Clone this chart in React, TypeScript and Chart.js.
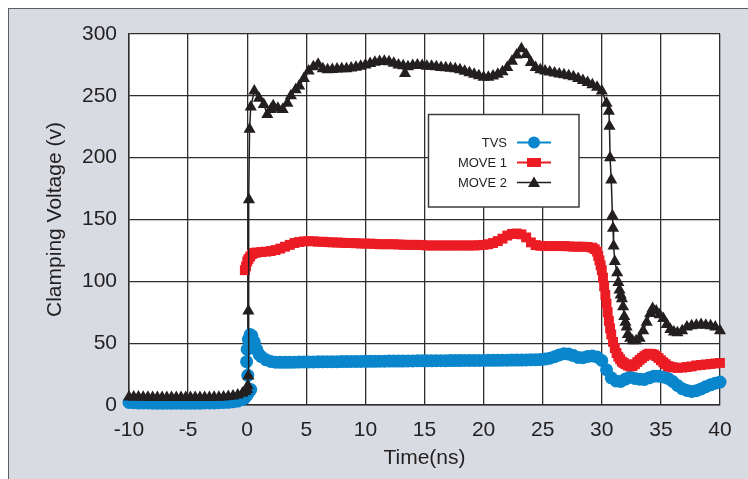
import { useEffect, useRef } from "react";
import { Chart, registerables } from "chart.js";

Chart.register(...registerables);

// ---- Data (time in ns, clamping voltage in V) ----
const tvsData: [number, number][] = [
  [-10, 2], [-9.6, 1.8], [-9.2, 1.7], [-8.8, 1.6], [-8.4, 1.6], [-8, 1.5], [-7.6, 1.5], [-7.2, 1.5],
  [-6.8, 1.5], [-6.4, 1.5], [-6, 1.5], [-5.6, 1.5], [-5.2, 1.5], [-4.8, 1.5], [-4.4, 1.5], [-4, 1.5],
  [-3.6, 1.6], [-3.2, 1.6], [-2.8, 1.7], [-2.4, 1.8], [-2, 2], [-1.6, 2.2], [-1.2, 2.6], [-0.8, 3.2],
  [-0.4, 4.5], [-0.2, 6], [0, 8], [0.15, 10.5], [0.3, 12.5], [0.05, 24], [-0.05, 35], [0, 45],
  [0.1, 53], [0.25, 57], [0.4, 56], [0.6, 51], [0.8, 45], [1, 41], [1.2, 39], [1.6, 36.5],
  [2, 35.2], [2.4, 34.6], [2.8, 34.5], [3.2, 34.5], [3.6, 34.5], [4, 34.6], [4.4, 34.7], [4.8, 34.8],
  [5.2, 34.8], [5.6, 34.8], [6, 34.9], [6.4, 35], [6.8, 35], [7.2, 35], [7.6, 35], [8, 35.1],
  [8.4, 35.1], [8.8, 35.2], [9.2, 35.2], [9.6, 35.2], [10, 35.3], [10.4, 35.3], [10.8, 35.3], [11.2, 35.4],
  [11.6, 35.4], [12, 35.5], [12.4, 35.5], [12.8, 35.5], [13.2, 35.5], [13.6, 35.6], [14, 35.6], [14.4, 35.7],
  [14.8, 35.7], [15.2, 35.7], [15.6, 35.7], [16, 35.8], [16.4, 35.8], [16.8, 35.8], [17.2, 35.9], [17.6, 35.9],
  [18, 35.9], [18.4, 36], [18.8, 36], [19.2, 36], [19.6, 36], [20, 36], [20.4, 36.1], [20.8, 36.1],
  [21.2, 36.1], [21.6, 36.2], [22, 36.2], [22.4, 36.3], [22.8, 36.3], [23.2, 36.3], [23.6, 36.4], [24, 36.5],
  [24.4, 36.6], [24.8, 36.7], [25.2, 37.1], [25.6, 37.8], [26, 39], [26.4, 40.5], [26.8, 41.5], [27.2, 41.2],
  [27.6, 40], [28, 38.5], [28.4, 38.3], [28.8, 39.2], [29.2, 39.6], [29.6, 38.8], [30, 36], [30.4, 28.5],
  [30.8, 22], [31.2, 19.5], [31.6, 19], [32, 21], [32.4, 22.5], [32.8, 21.5], [33.2, 20.8], [33.6, 20.7],
  [34, 22], [34.4, 23.3], [34.8, 23.3], [35.2, 22.7], [35.6, 21.5], [36, 19], [36.4, 15.8], [36.8, 13.2],
  [37.2, 11.8], [37.6, 11], [38, 11.5], [38.4, 13], [38.8, 14.8], [39.2, 16.3], [39.6, 17.6], [40, 18.5],
];

const move1Data: [number, number][] = [
  [-0.2, 109], [-0.1, 112], [0, 116], [0.1, 118], [0.25, 120], [0.4, 122], [0.6, 123], [0.8, 123.3],
  [1.2, 123.7], [1.6, 124], [2, 124.5], [2.4, 125.3], [2.8, 126.5], [3.2, 128], [3.6, 129.5], [4, 131],
  [4.4, 131.8], [4.8, 132.3], [5.2, 132.5], [5.6, 132.4], [6, 132], [6.4, 132], [6.8, 131.7], [7.2, 131.5],
  [7.6, 131.4], [8, 131.2], [8.4, 131], [8.8, 131], [9.2, 130.8], [9.6, 130.6], [10, 130.5], [10.4, 130.5],
  [10.8, 130.3], [11.2, 130], [11.6, 130], [12, 130], [12.4, 130], [12.8, 129.8], [13.2, 129.6], [13.6, 129.5],
  [14, 129.5], [14.4, 129.5], [14.8, 129.3], [15.2, 129], [15.6, 129], [16, 129], [16.4, 129], [16.8, 129],
  [17.2, 129], [17.6, 129], [18, 129], [18.4, 129], [18.8, 129], [19.2, 129], [19.6, 129.2], [20, 129.5],
  [20.4, 130], [20.8, 131], [21.2, 132.5], [21.6, 134.5], [22, 137], [22.4, 138.3], [22.8, 138.7], [23.2, 138],
  [23.6, 135.5], [24, 131.5], [24.4, 129.3], [24.8, 128.7], [25.2, 128.5], [25.6, 128.5], [26, 128.5], [26.4, 128.5],
  [26.8, 128.5], [27.2, 128.3], [27.6, 128], [28, 128], [28.4, 128], [28.8, 127.8], [29.2, 127.2], [29.4, 126],
  [29.6, 124], [29.7, 120.5], [29.8, 117], [29.9, 113], [30, 109], [30.1, 103], [30.2, 96], [30.3, 89],
  [30.4, 82], [30.5, 75], [30.6, 68], [30.7, 62], [30.8, 57], [30.95, 51], [31.1, 46], [31.25, 42],
  [31.4, 39], [31.55, 37], [31.7, 35], [31.85, 34], [32, 33], [32.2, 32], [32.4, 31.2], [32.6, 31.5],
  [32.8, 33], [33, 34.7], [33.2, 36.5], [33.4, 38], [33.6, 39.5], [33.8, 40.7], [34, 41.5], [34.2, 41.3],
  [34.4, 40.8], [34.6, 39.6], [34.8, 38], [35, 36.2], [35.2, 34.5], [35.4, 33], [35.6, 31.5], [35.8, 30.9],
  [36, 30.5], [36.4, 30], [36.8, 30.2], [37.2, 30.7], [37.6, 31.2], [38, 32], [38.4, 32.4], [38.8, 32.8],
  [39.2, 33.2], [39.6, 33.6], [40, 34],
];

const move2Data: [number, number][] = [
  [-10, 6.5], [-9.6, 6.5], [-9.2, 6.4], [-8.8, 6.3], [-8.4, 6.2], [-8, 6.1], [-7.6, 6], [-7.2, 6],
  [-6.8, 6], [-6.4, 6], [-6, 6], [-5.6, 6], [-5.2, 6], [-4.8, 6], [-4.4, 6], [-4, 6],
  [-3.6, 6.1], [-3.2, 6.1], [-2.8, 6.2], [-2.4, 6.3], [-2, 6.5], [-1.6, 6.8], [-1.2, 7.2], [-0.8, 8],
  [-0.4, 9.5], [-0.15, 11], [0, 12.5], [0.05, 15.5], [0.1, 23.5], [0.1, 76], [0.15, 166], [0.2, 223],
  [0.3, 241], [0.6, 254], [1, 248], [1.4, 243], [1.7, 235], [2, 239], [2.2, 242], [2.6, 240],
  [3, 239], [3.4, 244], [3.7, 250], [4.1, 255], [4.4, 258], [4.8, 264], [5.2, 270], [5.6, 273.5],
  [6, 275.5], [6.4, 272], [6.8, 271], [7.2, 271.3], [7.6, 271.6], [8, 272], [8.4, 272], [8.8, 272.5],
  [9.2, 273.2], [9.6, 274], [10, 275], [10.4, 276.2], [10.8, 277.2], [11.2, 277.8], [11.6, 278], [12, 277.5],
  [12.4, 276.3], [12.8, 275], [13.2, 274.3], [13.35, 268], [13.6, 273.5], [14, 274.5], [14.4, 275], [14.8, 274.5],
  [15.2, 274], [15.6, 274], [16, 273.5], [16.4, 273], [16.8, 272.7], [17.2, 272.3], [17.6, 272], [18, 271],
  [18.4, 269.8], [18.8, 268.6], [19.2, 267.5], [19.6, 266.3], [20, 265], [20.4, 265], [20.8, 266], [21.2, 267.5],
  [21.6, 269.5], [22, 273], [22.4, 278], [22.8, 283], [23.2, 288], [23.6, 283.5], [24, 277], [24.4, 273],
  [24.8, 271], [25.2, 270], [25.6, 269.3], [26, 268.5], [26.4, 267.7], [26.8, 267], [27.2, 266.2], [27.6, 265.5],
  [28, 264], [28.4, 262.4], [28.8, 260.8], [29.2, 259], [29.6, 257], [30, 254], [30.4, 244], [30.6, 237.5],
  [30.65, 225.5], [30.7, 200], [30.8, 182], [30.9, 153], [30.95, 143], [31, 128.5], [31.1, 116], [31.3, 107],
  [31.4, 99], [31.5, 93], [31.6, 89], [31.7, 86], [31.8, 79.5], [31.9, 71.5], [32, 67], [32.1, 63],
  [32.2, 57], [32.4, 54], [32.6, 52], [32.9, 52], [33.2, 54], [33.5, 60], [33.8, 67], [34.1, 74],
  [34.3, 78], [34.6, 76], [34.9, 73], [35.2, 70], [35.5, 65], [35.8, 61], [36.1, 59], [36.4, 58.5],
  [36.8, 60], [37.2, 63], [37.6, 64], [38, 64.5], [38.4, 65], [38.8, 64.5], [39.2, 64], [39.6, 63],
  [40, 60],
];

const seriesNames = ["TVS", "MOVE 1", "MOVE 2"];
const seriesColors = ["#0a86cd", "#ec1c24", "#231f20"];
const seriesStyles = ["circle", "rect", "triangle"];

const xMin = -10;
const xMax = 40;
const xStep = 5;
const yMin = 0;
const yMax = 300;
const yStep = 50;

const FONT = "'Liberation Sans', Arial, Helvetica, sans-serif";
const TEXT = "#231f20";
const GRID = "#2e2e2e";

const plotBackground = {
  id: "plotBackground",
  beforeDraw(chart: any) {
    const { ctx, chartArea } = chart;
    ctx.save();
    ctx.fillStyle = "#ffffff";
    ctx.fillRect(chartArea.left, chartArea.top, chartArea.right - chartArea.left, chartArea.bottom - chartArea.top);
    ctx.restore();
  },
};

const boxLegend = {
  id: "boxLegend",
  afterDraw(chart: any) {
    const { ctx } = chart;
    const bx = 428.5, by = 114.5, bw = 150.5, bh = 92.5;
    ctx.save();
    ctx.fillStyle = "#ffffff";
    ctx.fillRect(bx, by, bw, bh);
    ctx.strokeStyle = "#3c3c3c";
    ctx.lineWidth = 1.5;
    ctx.strokeRect(bx, by, bw, bh);
    ctx.font = `13px ${FONT}`;
    ctx.textAlign = "right";
    ctx.textBaseline = "middle";
    seriesNames.forEach((name, i) => {
      const y = 142.5 + i * 20;
      ctx.fillStyle = TEXT;
      ctx.fillText(name, 507, y + 0.5);
      const color = seriesColors[i];
      ctx.strokeStyle = color;
      ctx.lineWidth = i === 2 ? 1.5 : 2;
      ctx.beginPath();
      ctx.moveTo(517, y);
      ctx.lineTo(551, y);
      ctx.stroke();
      ctx.fillStyle = color;
      const cx = 534;
      if (seriesStyles[i] === "circle") {
        ctx.beginPath();
        ctx.arc(cx, y, 6, 0, Math.PI * 2);
        ctx.fill();
      } else if (seriesStyles[i] === "rect") {
        ctx.fillRect(cx - 7, y - 4.5, 14, 9);
      } else {
        ctx.beginPath();
        ctx.moveTo(cx, y - 6);
        ctx.lineTo(cx + 6, y + 4.5);
        ctx.lineTo(cx - 6, y + 4.5);
        ctx.closePath();
        ctx.fill();
      }
    });
    ctx.restore();
  },
};

export default function App() {
  const canvasRef = useRef<HTMLCanvasElement | null>(null);

  useEffect(() => {
    if (!canvasRef.current) return;
    const all = [tvsData, move1Data, move2Data];
    const radii = [6.5, 7, 7];
    const widths = [2, 2, 1.5];
    const orders = [2, 1, 0];
    const chart = new Chart(canvasRef.current, {
      type: "scatter",
      data: {
        datasets: all.map((d, i) => ({
          label: seriesNames[i],
          data: d.map(([x, y]) => ({ x, y })),
          showLine: true,
          borderColor: seriesColors[i],
          backgroundColor: seriesColors[i],
          pointBackgroundColor: seriesColors[i],
          pointBorderWidth: 0,
          pointStyle: seriesStyles[i] as any,
          pointRadius: radii[i],
          pointHoverRadius: radii[i],
          borderWidth: widths[i],
          tension: 0,
          clip: false as any,
          order: orders[i],
        })),
      },
      options: {
        animation: false,
        responsive: false,
        events: [],
        layout: { padding: { top: 34, right: 28, bottom: 0, left: 0 } },
        plugins: {
          legend: { display: false },
          tooltip: { enabled: false },
        },
        scales: {
          x: {
            type: "linear",
            min: xMin,
            max: xMax,
            afterFit: (s: any) => {
              s.height = 74;
            },
            ticks: {
              stepSize: xStep,
              color: TEXT,
              padding: 13,
              font: { family: FONT, size: 21 },
              maxRotation: 0,
            },
            grid: { color: GRID, lineWidth: 1.3, drawTicks: false },
            border: { display: true, color: GRID, width: 1.5 },
            title: {
              display: true,
              text: "Time(ns)",
              color: TEXT,
              font: { family: FONT, size: 21 },
              padding: { top: 0, bottom: 8 },
            },
          },
          y: {
            type: "linear",
            min: yMin,
            max: yMax,
            afterFit: (s: any) => {
              s.width = 129;
            },
            ticks: {
              stepSize: yStep,
              color: TEXT,
              padding: 12,
              font: { family: FONT, size: 21 },
            },
            grid: { color: GRID, lineWidth: 1.3, drawTicks: false },
            border: { display: true, color: GRID, width: 1.5 },
            title: {
              display: true,
              text: "Clamping Voltage (v)",
              color: TEXT,
              font: { family: FONT, size: 21 },
              padding: { top: 43, bottom: 0 },
            },
          },
        },
      },
      plugins: [plotBackground, boxLegend],
    });
    return () => chart.destroy();
  }, []);

  return (
    <div style={{ position: "fixed", left: 0, top: 0, width: 748, height: 479, background: "#ffffff", overflow: "hidden" }}>
      <div
        style={{
          position: "absolute",
          left: 8,
          top: 8,
          width: 740,
          height: 471,
          boxSizing: "border-box",
          background: "#d8dce2",
          borderTop: "1.5px solid #5e5e5e",
          borderLeft: "1.5px solid #5e5e5e",
        }}
      />
      <canvas
        ref={canvasRef}
        width={748}
        height={479}
        style={{ position: "absolute", left: 0, top: 0, width: 748, height: 479 }}
      />
    </div>
  );
}
